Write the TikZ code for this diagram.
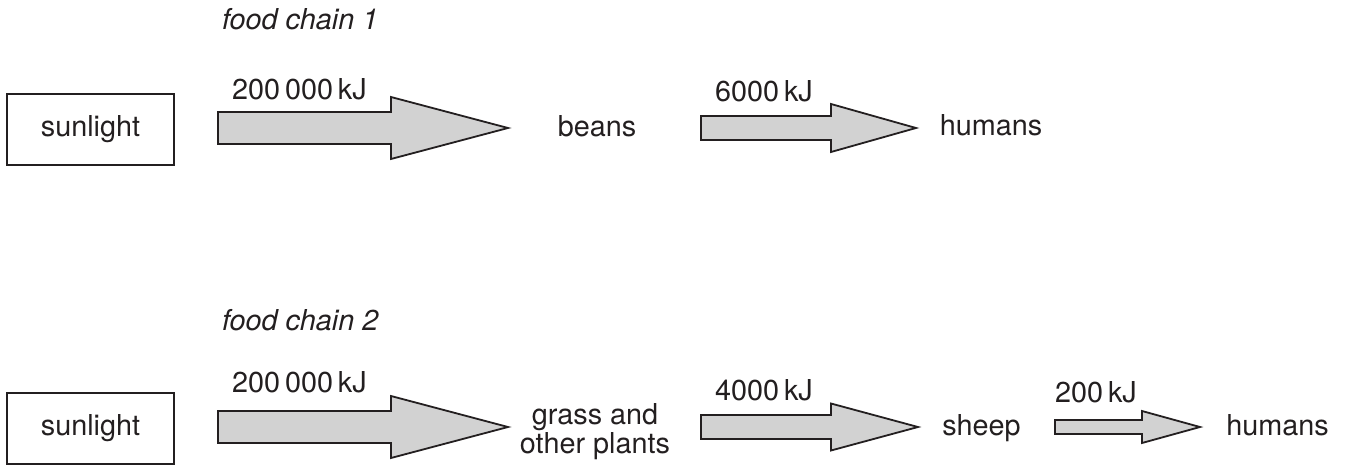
\documentclass[tikz,border=0pt]{standalone}
\usepackage{fontspec}
\setmainfont{TeX Gyre Heros}
\definecolor{inkc}{HTML}{231F20}
\definecolor{arrowfill}{HTML}{D2D2D2}
\newcommand\myblockarrow[6]{% tail x, head-base x, tip x, centre y, shaft half-width, head half-width
  \draw[blockarr] (#1,#4-#5) -- (#2,#4-#5) -- (#2,#4-#6) -- (#3,#4) -- (#2,#4+#6) -- (#2,#4+#5) -- (#1,#4+#5) -- cycle;}
\begin{document}
\begin{tikzpicture}[x=1pt,y=-1pt,
  txt/.style={font=\fontsize{28.8}{29.5}\selectfont, text=inkc, inner sep=0pt},
  lbl/.style={txt, anchor=base},
  val/.style={txt, anchor=base west},
  title/.style={txt, anchor=base west, font=\fontsize{28.8}{29.5}\selectfont\itshape},
  sunbox/.style={txt, draw=inkc, line width=1.8pt, minimum width=167pt, minimum height=71pt},
  blockarr/.style={draw=inkc, fill=arrowfill, line width=1.8pt, line join=miter}
]
\useasboundingbox (0,0) rectangle (1348,465);

% food chain 1
\node[title] (t1) at (222,30) {food chain 1};
\node[sunbox] (sun1) at (90.5,129.5) {sunlight};
\myblockarrow{218}{391}{508}{128}{16}{31}
\node[val] (e11) at (232,100) {200\,000\,kJ};
\node[lbl] (beans) at (597,137) {beans};
\myblockarrow{701}{831}{916}{128}{12}{24}
\node[val] (e12) at (715,102) {6000\,kJ};
\node[lbl] (hum1) at (991,136) {humans};

% food chain 2
\node[title] (t2) at (222,330) {food chain 2};
\node[sunbox] (sun2) at (90.5,428.5) {sunlight};
\myblockarrow{218}{391}{508}{427}{16}{31}
\node[val] (e21) at (232,392) {200\,000\,kJ};
\node[txt, align=center] (grass) at (595,431.5) {grass and\\other plants};
\myblockarrow{701}{831}{918}{427}{12}{23.5}
\node[val] (e22) at (715,400) {4000\,kJ};
\node[lbl] (sheep) at (981.5,435) {sheep};
\myblockarrow{1055}{1142}{1200}{427}{7}{16}
\node[val] (e23) at (1055,402) {200\,kJ};
\node[lbl] (hum2) at (1277.5,435) {humans};
\end{tikzpicture}
\end{document}
